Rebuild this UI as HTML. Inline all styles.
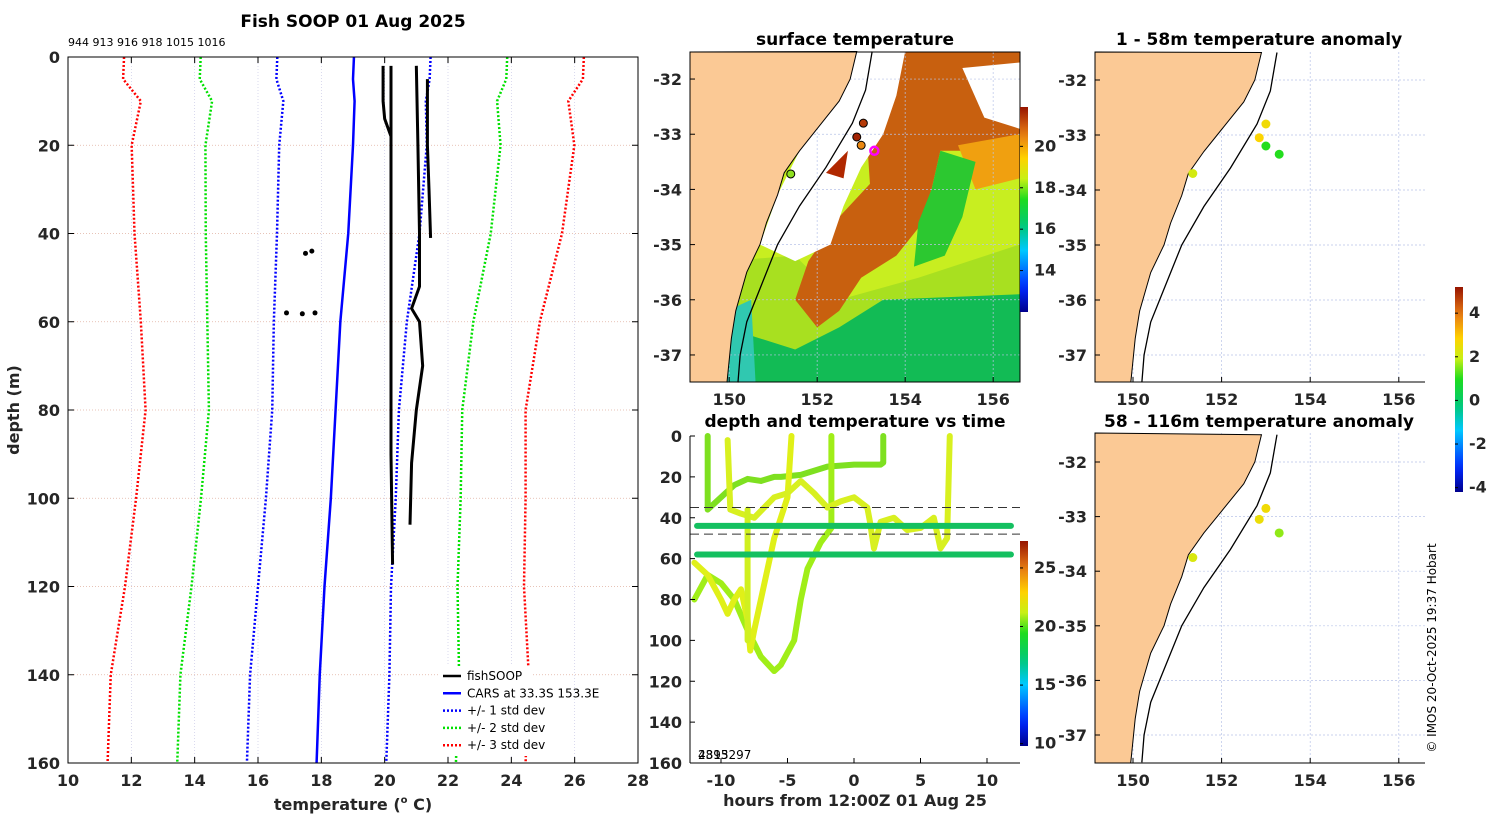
<!DOCTYPE html>
<html><head><meta charset="utf-8">
<style>
body{margin:0;background:#fff;}
svg{display:block;font-family:"DejaVu Sans","Liberation Sans",sans-serif;}
.t{font-weight:bold;fill:#262626;font-size:16px;}
.h{font-weight:bold;fill:#000;font-size:17px;}
</style></head>
<body>
<svg id="fig" width="1500" height="820" viewBox="0 0 1500 820" xmlns="http://www.w3.org/2000/svg">
<text x="353" y="27" text-anchor="middle" class="h" font-size="17">Fish SOOP 01 Aug 2025</text>
<text x="68" y="46" font-size="11" fill="#000">944 913 916 918 1015 1016</text>
<g id="prof"></g>
<g id="sst"></g>
<g id="ts"></g>
<g id="an1"></g>
<g id="an2"></g>
<g id="cbar"></g>
<text transform="translate(1436,648) rotate(-90)" text-anchor="middle" font-size="12" fill="#000">© IMOS 20-Oct-2025 19:37 Hobart</text>
</svg>
<script>
// ---------- data ----------
const depths=[0,5,10,20,40,60,80,100,120,140,160];
const carsMean=[19.03,19.0,19.05,19.0,18.85,18.6,18.45,18.3,18.1,17.95,17.85];
const carsStd=[2.42,2.42,2.25,2.33,2.25,2.1,2.0,2.05,2.1,2.2,2.2];
const profA=[[20.2,2],[20.2,30],[20.2,60],[20.2,90],[20.25,115]];
const profB=[[19.95,2],[19.95,10],[20.0,14],[20.2,18],[20.2,40]];
const profC=[[21.0,2],[21.05,20],[21.1,40],[21.1,52],[20.85,57],[21.1,60],[21.2,70],[21.0,80],[20.85,92],[20.8,106]];
const profD=[[21.35,5],[21.35,20],[21.4,30],[21.45,41]];
const blobs=[[17.5,44.5],[17.7,44],[16.9,58],[17.4,58.2],[17.8,58]];
const xTicks=[10,12,14,16,18,20,22,24,26,28];
const yTicks=[0,20,40,60,80,100,120,140,160];
const coast=[[152.9,-31.5],[152.75,-32.0],[152.5,-32.4],[152.0,-32.9],[151.6,-33.3],[151.25,-33.7],[151.1,-34.1],[150.85,-34.6],[150.7,-35.0],[150.4,-35.5],[150.15,-36.2],[150.05,-36.7],[149.95,-37.5]];
const isobath=[[153.25,-31.5],[153.1,-32.2],[152.8,-32.8],[152.2,-33.6],[151.6,-34.3],[151.1,-35.0],[150.7,-35.8],[150.4,-36.4],[150.25,-37.0],[150.2,-37.5]];
const stations=[[153.05,-32.8,21.5],[152.9,-33.05,21.8],[153.0,-33.2,20.5]];
const anomShallow=[[153.0,-32.8,2.6],[152.85,-33.05,2.8],[153.0,-33.2,1.0],[153.3,-33.35,1.0],[151.35,-33.7,2.1]];
const anomDeep=[[153.0,-32.85,2.6],[152.85,-33.05,2.5],[153.3,-33.3,1.6],[151.35,-33.75,2.2]];
const series1=[[-11,0],[-11,36],[-10,30],[-9,24],[-8,21],[-7,22],[-6,20],[-5.5,20],[-4,19],[-2,15],[0,14],[2,14],[2.2,13],[2.2,0]];
const series2=[[-1.7,0],[-1.7,45],[-2.5,52],[-3.5,65],[-4,80],[-4.5,100],[-5.5,112],[-6,115],[-7,108],[-8,95],[-9,80],[-10,72],[-11,68],[-12,80]];
const series3=[[-12,62],[-11,68],[-10,80],[-9.5,87],[-9,80],[-8.5,75],[-8,90],[-7.8,105],[-7.5,95],[-7,80],[-6.5,65],[-6,50],[-5.5,40],[-5,30],[-4.7,0]];
const series4=[[-9.5,2],[-9.3,36],[-8.5,38],[-7.5,40],[-6,30],[-5,28],[-4,22],[-3,28],[-2,35],[-1,32],[0,30],[1,35],[1.2,42],[1.5,55],[2,42],[3,40],[4,46],[5,45],[6,40],[6.5,55],[7,50],[7.2,0]];
const series5=[[-8,36],[-8,100]];
const lineDepths=[44,58];
const dashDepths=[35,48];
// ---------- helpers ----------
const NS='http://www.w3.org/2000/svg';
function mk(p,tag,a){const e=document.createElementNS(NS,tag);for(const k in a)e.setAttribute(k,a[k]);p.appendChild(e);return e;}
function txt(p,x,y,s,a){const e=mk(p,'text',Object.assign({x:x,y:y},a));e.textContent=s;return e;}
function jet(t){t=Math.max(0,Math.min(1,t));const st=[[0,[0,0,140]],[0.12,[0,40,255]],[0.3,[0,200,255]],[0.42,[0,200,120]],[0.55,[30,220,30]],[0.65,[200,240,20]],[0.75,[255,210,0]],[0.87,[230,120,20]],[1,[150,20,0]]];
for(let i=1;i<st.length;i++){if(t<=st[i][0]){const f=(t-st[i-1][0])/(st[i][0]-st[i-1][0]);const c=st[i-1][1].map((v,j)=>Math.round(v+f*(st[i][1][j]-v)));return `rgb(${c})`;}}return 'rgb(150,20,0)';}
function gradDef(id){let d=document.querySelector('#fig defs')||mk(document.getElementById('fig'),'defs',{});const g=mk(d,'linearGradient',{id:id,x1:0,y1:1,x2:0,y2:0});for(let i=0;i<=20;i++)mk(g,'stop',{offset:i/20,'stop-color':jet(i/20)});}
gradDef('jetg');
// ---------- profile panel ----------
(function(){const g=document.getElementById('prof');
const X0=68,X1=638,Y0=57,Y1=763;
const sx=v=>X0+(v-10)/18*(X1-X0), sy=d=>Y0+d/160*(Y1-Y0);
xTicks.forEach(v=>{mk(g,'line',{x1:sx(v),x2:sx(v),y1:Y0,y2:Y1,stroke:'#c9c9e6','stroke-width':0.7,'stroke-dasharray':'1,2'});
 mk(g,'line',{x1:sx(v),x2:sx(v),y1:Y1,y2:Y1-6,stroke:'#000'});mk(g,'line',{x1:sx(v),x2:sx(v),y1:Y0,y2:Y0+6,stroke:'#000'});
 const t=txt(g,sx(v),786,v,{'text-anchor':'middle',class:'t'});});
yTicks.forEach(v=>{mk(g,'line',{x1:X0,x2:X1,y1:sy(v),y2:sy(v),stroke:'#e0b0a0','stroke-width':0.7,'stroke-dasharray':'1,2'});
 mk(g,'line',{x1:X0,x2:X0+6,y1:sy(v),y2:sy(v),stroke:'#000'});mk(g,'line',{x1:X1,x2:X1-6,y1:sy(v),y2:sy(v),stroke:'#000'});
 const t=txt(g,60,sy(v)+6,v,{'text-anchor':'end',class:'t'});});
const cols={1:'#0000ff',2:'#00e000',3:'#ff0000'};
[-3,-2,-1,1,2,3].forEach(k=>{const pts=depths.map((d,i)=>sx(carsMean[i]+k*carsStd[i])+','+sy(d)).join(' ');
 const l=mk(g,'polyline',{points:pts,fill:'none',stroke:cols[Math.abs(k)],'stroke-width':2.5,'stroke-dasharray':'2,2'});
 });
const cl=mk(g,'polyline',{points:depths.map((d,i)=>sx(carsMean[i])+','+sy(d)).join(' '),fill:'none',stroke:'#0000ff','stroke-width':2.5});

[profA,profB,profC,profD].forEach(p=>{const l=mk(g,'polyline',{points:p.map(q=>sx(q[0])+','+sy(q[1])).join(' '),fill:'none',stroke:'#000','stroke-width':3});
 });
blobs.forEach(b=>{const c=mk(g,'circle',{cx:sx(b[0]),cy:sy(b[1]),r:2.5,fill:'#000'});});
mk(g,'rect',{x:X0,y:Y0,width:X1-X0,height:Y1-Y0,fill:'none',stroke:'#000'});
const xl=txt(g,353,810,'temperature (',{'text-anchor':'middle',class:'t','font-size':17});
xl.innerHTML='temperature (<tspan font-size="10" dy="-7">o</tspan><tspan dy="7"> C)</tspan>';

const yl=txt(g,0,0,'depth (m)',{transform:'translate(19,410) rotate(-90)','text-anchor':'middle',class:'t','font-size':17});

const lg=mk(g,'g',{});
mk(lg,'rect',{x:440,y:666,width:91,height:90,fill:'#fff'});
const items=[['fishSOOP','#000',''],['CARS at 33.3S 153.3E','#0000ff',''],['+/- 1 std dev','#0000ff','2,2'],['+/- 2 std dev','#00e000','2,2'],['+/- 3 std dev','#ff0000','2,2']];
items.forEach((it,i)=>{const y=676+i*17.3;const e=mk(lg,'g',{});
 mk(e,'line',{x1:443,x2:461,y1:y,y2:y,stroke:it[1],'stroke-width':2.5,'stroke-dasharray':it[2]||'none'});txt(e,467,y+4,it[0],{'font-size':12,fill:'#000'});});
})();
// ---------- map helper ----------
function mapAxes(g,X0,Y0,W,H,lon0,lon1,lat0,lat1){
 const sx=l=>X0+(l-lon0)/(lon1-lon0)*W, sy=l=>Y0+(lat0-l)/(lat0-lat1)*H;
 return {sx,sy,X0,Y0,W,H};
}
function drawLand(g,m){
 const pts=coast.map(c=>m.sx(c[0])+','+m.sy(c[1]));
 const poly=[m.X0+','+m.Y0].concat(pts).concat([m.sx(coast[coast.length-1][0])+','+(m.Y0+m.H),m.X0+','+(m.Y0+m.H)]);
 const l=mk(g,'polygon',{points:poly.join(' '),fill:'#fbc995',stroke:'#000','stroke-width':1});
 const ib=mk(g,'polyline',{points:isobath.map(c=>m.sx(c[0])+','+m.sy(c[1])).join(' '),fill:'none',stroke:'#000','stroke-width':1.3});
 
}
function grid(g,m,lons,lats){
 lons.forEach(l=>mk(g,'line',{x1:m.sx(l),x2:m.sx(l),y1:m.Y0,y2:m.Y0+m.H,stroke:'#b8c4e8','stroke-width':0.7,'stroke-dasharray':'2,2'}));
 lats.forEach(l=>mk(g,'line',{x1:m.X0,x2:m.X0+m.W,y1:m.sy(l),y2:m.sy(l),stroke:'#b8c4e8','stroke-width':0.7,'stroke-dasharray':'2,2'}));
}
function labels(g,m,lons,lats,xy){
 lons.forEach(l=>{const t=txt(g,m.sx(l),xy,l,{'text-anchor':'middle',class:'t'});
  mk(g,'line',{x1:m.sx(l),x2:m.sx(l),y1:m.Y0+m.H,y2:m.Y0+m.H-5,stroke:'#000'});});
 lats.forEach(l=>{const t=txt(g,m.X0-8,m.sy(l)+6,l,{'text-anchor':'end',class:'t'});
  mk(g,'line',{x1:m.X0,x2:m.X0+5,y1:m.sy(l),y2:m.sy(l),stroke:'#000'});});
}
const LONS=[150,152,154,156], LATS=[-32,-33,-34,-35,-36,-37];
function colorbar(g,x,y,h,ticks,v0,v1){
 const r=mk(g,'rect',{x:x,y:y,width:8,height:h,fill:'url(#jetg)'});
 
 
 ticks.forEach(t=>{const yy=y+h-(t-v0)/(v1-v0)*h;mk(g,'line',{x1:x,x2:x+3,y1:yy,y2:yy,stroke:'#000'});
  const e=txt(g,x+14,yy+5,t,{class:'t','font-size':13});});
}
// ---------- SST map ----------
(function(){const g=document.getElementById('sst');
const m=mapAxes(g,690,52,330,330,149.11,156.61,-31.51,-37.49);
const P=a=>a.map(c=>m.sx(c[0])+','+m.sy(c[1])).join(' ');
mk(g,'rect',{x:690,y:52,width:330,height:330,fill:'#c8ee20'});
const regions=[
 [[[149.9,-35.3],[151.5,-35.2],[152.5,-36.0],[154.3,-35.6],[156.6,-35.0],[156.6,-37.5],[149.9,-37.5]],'#a8e020'],
 [[[150.3,-36.6],[151.5,-36.9],[152.5,-36.5],[153.5,-36.0],[156.6,-35.9],[156.6,-37.5],[150.2,-37.5]],'#12bb55'],
 [[[149.95,-36.2],[150.5,-36.0],[150.6,-37.5],[149.95,-37.5]],'#30c8b0'],
 [[[153.0,-31.5],[156.6,-31.5],[156.6,-33.2],[155.5,-33.3],[154.8,-33.3],[154.6,-34.0],[154.3,-34.7],[153.8,-35.2],[153.0,-35.6],[152.5,-36.2],[152.0,-36.5],[151.5,-36.0],[151.8,-35.3],[152.5,-34.5],[153.2,-33.9]],'#c8600f'],
 [[[155.2,-33.2],[156.6,-33.0],[156.6,-33.8],[155.6,-34.0]],'#f0a010'],
 [[[154.8,-33.3],[155.6,-33.5],[155.3,-34.5],[154.9,-35.2],[154.2,-35.4],[154.3,-34.6],[154.6,-34.0]],'#2cc830'],
 [[[152.9,-31.5],[154.0,-31.5],[153.8,-32.3],[153.5,-33.0],[153.0,-33.6],[152.6,-34.3],[152.3,-35.0],[151.5,-35.3],[150.7,-35.0],[151.1,-34.1],[151.6,-33.3],[152.5,-32.4]],'#ffffff'],
 [[[155.3,-31.8],[156.6,-31.7],[156.6,-32.9],[155.8,-32.7]],'#ffffff'],
 [[[152.7,-33.3],[152.2,-33.7],[152.6,-33.8]],'#b02800']
];
regions.forEach(r=>{const e=mk(g,'polygon',{points:P(r[0]),fill:r[1]});});
grid(g,m,LONS,LATS);
drawLand(g,m);
stations.forEach(s=>{const c=mk(g,'circle',{cx:m.sx(s[0]),cy:m.sy(s[1]),r:4,fill:jet((s[2]-12)/10),stroke:'#000'});});
const cars=mk(g,'circle',{cx:m.sx(153.3),cy:m.sy(-33.3),r:4,fill:'none',stroke:'#ff00ff','stroke-width':2.5});


const port=mk(g,'circle',{cx:m.sx(151.4),cy:m.sy(-33.72),r:4,fill:'#8ee020',stroke:'#000'});


mk(g,'rect',{x:690,y:52,width:330,height:330,fill:'none',stroke:'#000'});
labels(g,m,LONS,LATS,405);
const st=txt(g,855,45,'surface temperature',{'text-anchor':'middle',class:'h'});


colorbar(g,1020,107,205,[14,16,18,20],12.0,21.9);
})();
// ---------- depth/time panel ----------
(function(){const g=document.getElementById('ts');
const X0=690,X1=1020,Y0=436,Y1=763;
const sx=h=>X0+(h+12.33)/(24.81)*(X1-X0), sy=d=>Y0+d/160*(Y1-Y0);
const cols=['#7ee020','#a0ee18','#e0f018','#d8f020','#d0f020'];
[series1,series2,series3,series4,series5].forEach((s,i)=>{const l=mk(g,'polyline',{points:s.map(p=>sx(p[0])+','+sy(p[1])).join(' '),fill:'none',stroke:cols[i],'stroke-width':6,'stroke-linejoin':'round','stroke-linecap':'round'});
 });
lineDepths.forEach(d=>{const l=mk(g,'line',{x1:sx(-11.8),x2:sx(11.8),y1:sy(d),y2:sy(d),stroke:'#14c060','stroke-width':6,'stroke-linecap':'round'});});
dashDepths.forEach(d=>{const l=mk(g,'line',{x1:X0,x2:X1,y1:sy(d),y2:sy(d),stroke:'#333','stroke-width':1,'stroke-dasharray':'9,5'});});
mk(g,'line',{x1:X0,x2:X0,y1:Y0,y2:Y1,stroke:'#000'});mk(g,'line',{x1:X0,x2:X1,y1:Y1,y2:Y1,stroke:'#000'});
[-10,-5,0,5,10].forEach(v=>{mk(g,'line',{x1:sx(v),x2:sx(v),y1:Y1,y2:Y1-5,stroke:'#000'});const t=txt(g,sx(v),786,v,{'text-anchor':'middle',class:'t'});});
yTicks.forEach(v=>{mk(g,'line',{x1:X0,x2:X0+5,y1:sy(v),y2:sy(v),stroke:'#000'});const t=txt(g,682,sy(v)+6,v,{'text-anchor':'end',class:'t'});});
txt(g,698,759,'2395',{'font-size':12,fill:'#000'});txt(g,698,759,'4813297',{'font-size':12,fill:'#000'});
const tt=txt(g,855,427,'depth and temperature vs time',{'text-anchor':'middle',class:'h'});


const tx=txt(g,855,806,'hours from 12:00Z 01 Aug 25',{'text-anchor':'middle',class:'t','font-size':16});


colorbar(g,1020,541,205,[10,15,20,25],9.8,27.3);
})();
// ---------- anomaly maps ----------
function anomMap(id,Y0,Y1,latTopPx,lat37Px,pts,title,ty,ly){const g=document.getElementById(id);
 const degPx=(lat37Px-latTopPx)/5;
 const m={sx:l=>1133+(l-150)*44.3,sy:l=>latTopPx+(-32-l)*degPx,X0:1095,Y0:Y0,W:330,H:Y1-Y0};
 grid(g,m,LONS,LATS);drawLand(g,m);
 pts.forEach(p=>{const c=mk(g,'circle',{cx:m.sx(p[0]),cy:m.sy(p[1]),r:4.5,fill:jet((p[2]+4.2)/9.4)});});
 mk(g,'line',{x1:1095,x2:1425,y1:Y1,y2:Y1,stroke:'#000'});
 labels(g,m,LONS,LATS,ly);
 const at=txt(g,1259,ty,title,{'text-anchor':'middle',class:'h'});
 
 
}
anomMap('an1',52,382,80,355,anomShallow,'1 - 58m temperature anomaly',45,405);
anomMap('an2',433,763,462,735,anomDeep,'58 - 116m temperature anomaly',427,786);
colorbar(document.getElementById('cbar'),1455,287,205,[-4,-2,0,2,4],-4.2,5.2);
</script>
</body></html>
